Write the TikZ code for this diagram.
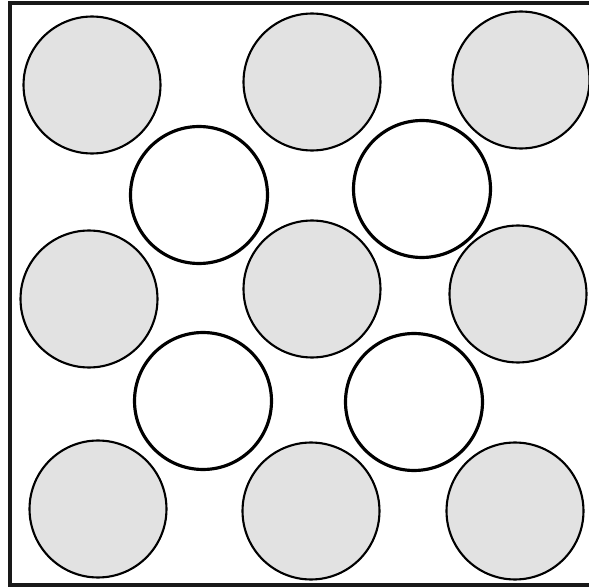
\documentclass[tikz,border=0pt]{standalone}
\usepackage{tikz}
\definecolor{GrainGray}{HTML}{E2E2E2}

\begin{document}
\begin{tikzpicture}[
    x=0.02cm,y=-0.02cm,
    grayball/.style={circle,draw=black,line width=1.2pt,fill=GrainGray,
      minimum size=2.74cm,inner sep=0pt},
    whiteball/.style={circle,draw=black,line width=1.8pt,fill=white,
      minimum size=2.74cm,inner sep=0pt},
    frame/.style={line width=2.2pt,color=black!90}
  ]
    \useasboundingbox (0,0) rectangle (589,588);
    \fill[white] (0,0) rectangle (589,588);
    % outer box, its right side lies past the page edge
    \draw[frame] (596,3) -- (10,3) -- (10,585) -- (596,585);
    % gray grains
    \node[grayball] (g11) at (92,85) {};
    \node[grayball] (g12) at (312,82) {};
    \node[grayball] (g13) at (521,80) {};
    \node[grayball] (g21) at (89,299) {};
    \node[grayball] (g22) at (312,289) {};
    \node[grayball] (g23) at (518,294) {};
    \node[grayball] (g31) at (98,509) {};
    \node[grayball] (g32) at (311,511) {};
    \node[grayball] (g33) at (515,511) {};
    % open holes
    \node[whiteball] (w11) at (199,195) {};
    \node[whiteball] (w12) at (422,189) {};
    \node[whiteball] (w21) at (203,401) {};
    \node[whiteball] (w22) at (414,402) {};
  \end{tikzpicture}
\end{document}
